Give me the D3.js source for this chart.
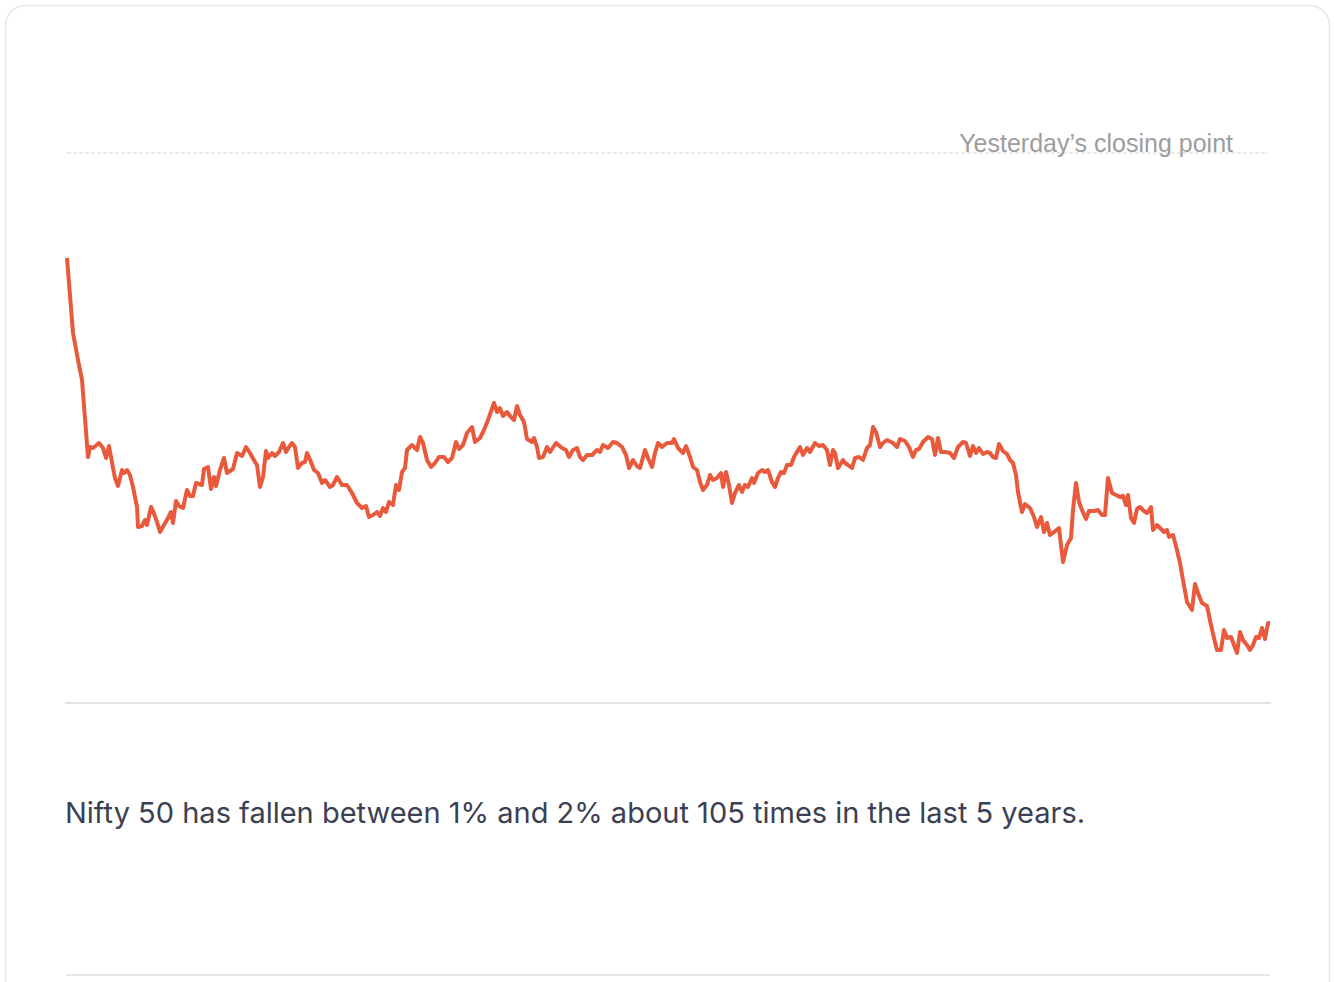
<!DOCTYPE html>
<html>
<head>
<meta charset="utf-8">
<script src="https://cdn.jsdelivr.net/npm/d3@7"></script>
<style>
  html, body { margin: 0; padding: 0; background: #fff; }
  svg { display: block; }
</style>
</head>
<body>
<svg id="chart" width="1334" height="982"></svg>
<script>
// Tick index since market open (intraday), and Nifty 50 level
const ticks = [0,6,11,15,21,23,26,32,36,39,42,46,48,51,55,57,60,63,66,70,71,75,78,80,84,86,90,93,97,101,104,106,109,112,116,120,123,126,129,135,137,141,144,147,149,153,157,160,166,170,175,179,183,188,190,193,196,199,201,205,208,212,216,219,222,225,228,231,235,238,240,244,247,251,255,258,263,266,270,275,280,285,290,295,299,302,306,310,313,316,319,322,326,329,332,335,338,340,345,350,353,356,360,364,368,372,377,381,385,389,392,396,400,405,408,413,417,421,427,430,433,436,440,443,447,450,453,457,460,465,467,470,472,476,480,483,489,495,499,502,506,510,513,516,520,525,530,533,536,541,546,550,555,559,562,566,570,573,578,581,585,588,591,595,600,605,607,611,616,619,623,626,630,633,636,640,643,646,650,654,656,659,662,665,668,672,675,678,681,685,687,691,695,698,701,705,708,711,714,717,720,724,727,730,733,736,740,743,748,752,756,760,763,766,768,771,776,778,781,785,788,792,796,800,803,806,809,813,816,820,826,830,833,838,842,846,849,852,856,861,865,868,871,874,878,883,887,891,896,899,903,906,909,912,916,920,923,926,929,932,936,940,943,946,949,951,955,958,963,967,970,974,977,980,983,987,992,996,1000,1004,1006,1009,1012,1015,1019,1022,1027,1031,1035,1038,1041,1045,1049,1053,1056,1059,1061,1064,1067,1070,1073,1077,1080,1084,1086,1090,1094,1097,1100,1102,1106,1110,1113,1116,1120,1125,1128,1131,1135,1140,1144,1147,1150,1154,1157,1160,1164,1167,1170,1173,1176,1180,1183,1186,1189,1192,1195,1198,1201,1203];
const levels = [24445,24370,24343,24323,24246,24256,24255,24260,24255,24245,24257,24235,24225,24217,24233,24230,24233,24228,24216,24196,24176,24177,24183,24178,24196,24192,24181,24171,24178,24185,24191,24180,24202,24197,24195,24213,24207,24207,24220,24218,24234,24236,24214,24226,24217,24233,24245,24230,24234,24250,24247,24256,24250,24241,24238,24216,24226,24252,24245,24250,24247,24251,24260,24251,24256,24260,24256,24235,24240,24241,24250,24241,24233,24230,24220,24223,24216,24218,24226,24218,24218,24210,24200,24195,24197,24186,24188,24191,24187,24195,24191,24201,24198,24218,24213,24231,24235,24253,24258,24253,24266,24260,24243,24236,24240,24246,24246,24241,24245,24261,24254,24258,24270,24276,24261,24265,24273,24283,24300,24291,24295,24287,24291,24287,24283,24297,24288,24281,24264,24261,24265,24256,24245,24246,24256,24251,24260,24255,24253,24246,24253,24255,24246,24243,24248,24248,24253,24251,24258,24255,24261,24260,24256,24248,24235,24243,24237,24235,24253,24245,24236,24250,24260,24256,24260,24260,24264,24255,24250,24257,24246,24236,24233,24221,24213,24218,24228,24223,24225,24230,24216,24231,24218,24200,24210,24218,24211,24218,24216,24225,24220,24230,24233,24231,24233,24221,24216,24225,24231,24230,24238,24238,24246,24251,24256,24248,24255,24251,24260,24257,24258,24253,24238,24253,24250,24235,24243,24240,24238,24235,24245,24246,24243,24255,24258,24276,24271,24256,24260,24263,24260,24256,24264,24262,24256,24246,24253,24254,24261,24266,24264,24248,24265,24251,24251,24250,24245,24256,24261,24260,24247,24257,24250,24255,24249,24251,24250,24246,24245,24259,24252,24249,24243,24240,24228,24211,24191,24199,24195,24186,24176,24186,24171,24180,24168,24171,24175,24141,24158,24165,24193,24220,24201,24193,24184,24192,24192,24193,24188,24188,24225,24210,24208,24206,24207,24198,24208,24185,24180,24194,24196,24192,24190,24196,24173,24178,24174,24171,24173,24166,24168,24153,24140,24123,24101,24093,24119,24110,24100,24097,24078,24065,24053,24053,24073,24065,24066,24058,24050,24071,24063,24058,24053,24058,24066,24065,24075,24064,24080,24080];
const previousClose = 24550;
const yDomain = [24000, 24550];
const xDomain = [0, 1203];
const closeLabel = "Yesterday\u2019s closing point";
const caption = "Nifty 50 has fallen between 1% and 2% about 105 times in the last 5 years.";

const data = ticks.map((t, i) => ({ t, v: levels[i] }));

const svg = d3.select("#chart");

// card
svg.append("rect")
  .attr("x", 5.5).attr("y", 5.5)
  .attr("width", 1324).attr("height", 1010)
  .attr("rx", 20).attr("ry", 20)
  .attr("fill", "#fff")
  .attr("stroke", "#e6e6e6")
  .attr("stroke-width", 1.5);

const x = d3.scaleLinear().domain(xDomain).range([67, 1270]);
const y = d3.scaleLinear().domain(yDomain).range([703, 153]);

// previous close dashed line
svg.append("line")
  .attr("x1", 67).attr("x2", 1268)
  .attr("y1", y(previousClose)).attr("y2", y(previousClose))
  .attr("stroke", "#d4d4d4")
  .attr("stroke-width", 1)
  .attr("stroke-dasharray", "4,2");

svg.append("text")
  .attr("x", 1233).attr("y", y(previousClose) - 1)
  .attr("text-anchor", "end")
  .attr("font-family", "Liberation Sans, Arial, sans-serif")
  .attr("font-size", 25)
  .attr("fill", "#9d9d9d")
  .text(closeLabel);

// baseline axis
const xAxis = d3.axisBottom(x).tickValues([]).tickSizeOuter(0);
const axisG = svg.append("g")
  .attr("transform", `translate(0,${y(yDomain[0])})`)
  .call(xAxis);
axisG.select(".domain")
  .attr("stroke", "#c6c6c6")
  .attr("stroke-width", 1.2)
  .attr("d", `M${x.range()[0] - 2},0H${x.range()[1] + 1}`);

// line
const line = d3.line().x(d => x(d.t)).y(d => y(d.v));
svg.append("path")
  .datum(data)
  .attr("d", line)
  .attr("fill", "none")
  .attr("stroke", "#e85a3b")
  .attr("stroke-width", 4)
  .attr("stroke-linejoin", "round")
  .attr("stroke-linecap", "butt");

// caption
svg.append("text")
  .attr("x", 65).attr("y", 823)
  .attr("font-family", "Inter, 'Noto Sans', sans-serif")
  .attr("font-size", 29)
  .attr("fill", "#3b4052")
  .text(caption);

// bottom divider
svg.append("line")
  .attr("x1", 66).attr("x2", 1270)
  .attr("y1", 975).attr("y2", 975)
  .attr("stroke", "#e6e6e6")
  .attr("stroke-width", 2);
</script>
</body>
</html>
